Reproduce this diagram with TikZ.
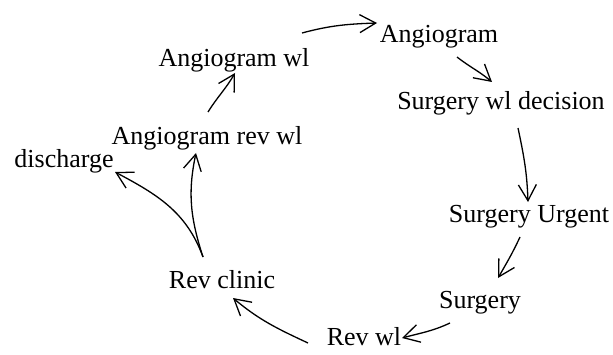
\documentclass[tikz,border=0pt]{standalone}
\usepackage{fontspec}
\setmainfont{Liberation Serif}
\usetikzlibrary{arrows.meta,calc}
\begin{document}
\begin{tikzpicture}[x=1pt,y=1pt,
  lbl/.style={inner sep=0pt,anchor=base,font=\fontsize{26}{31}\selectfont},
  arr/.style={line width=1.3pt,-{Straight Barb[length=16pt,width=18pt,line width=1.3pt]}}]
\useasboundingbox (0,0) rectangle (613,354);
\node[lbl] (aw)  at (234,287) {Angiogram wl};
\node[lbl] (ang) at (439,311) {Angiogram};
\node[lbl] (swd) at (501,244) {Surgery wl decision};
\node[lbl] (arw) at (207,209) {Angiogram rev wl};
\node[lbl] (dis) at (64,186)  {discharge};
\node[lbl] (su)  at (529,132) {Surgery Urgent};
\node[lbl] (rc)  at (222,66)  {Rev clinic};
\node[lbl] (s)   at (480,46)  {Surgery};
\node[lbl] (rw)  at (364,9)   {Rev wl};
% connectors
\draw[arr] ($(aw.base)+(68,34)$) to[out=15,in=182] ($(ang.base)+(-62,20)$);
\draw[arr] ($(ang.base)+(18,-14)$) to[out=-38,in=140] ($(swd.base)+(-9,28)$);
\draw[arr] ($(swd.base)+(17,-18)$) to[out=-78,in=92] ($(su.base)+(-1,20)$);
\draw[arr] ($(su.base)+(-9,-15)$) to[out=-115,in=60] ($(s.base)+(18,30)$);
\draw[arr] ($(s.base)+(-30,-15)$) to[out=-155,in=15] ($(rw.base)+(38,7)$);
\draw[arr] ($(rw.base)+(-56,2)$) to[out=155,in=-40] ($(rc.base)+(11,-10)$);
\draw[arr] ($(rc.base)+(-19,31)$) to[out=110,in=-28] ($(dis.base)+(51,-4)$);
\draw[arr] ($(rc.base)+(-19,31)$) to[out=108,in=-102] ($(arw.base)+(-11,-8)$);
\draw[arr] ($(arw.base)+(1,33)$) to[out=58,in=-120] ($(aw.base)+(1,-6)$);
\end{tikzpicture}
\end{document}
